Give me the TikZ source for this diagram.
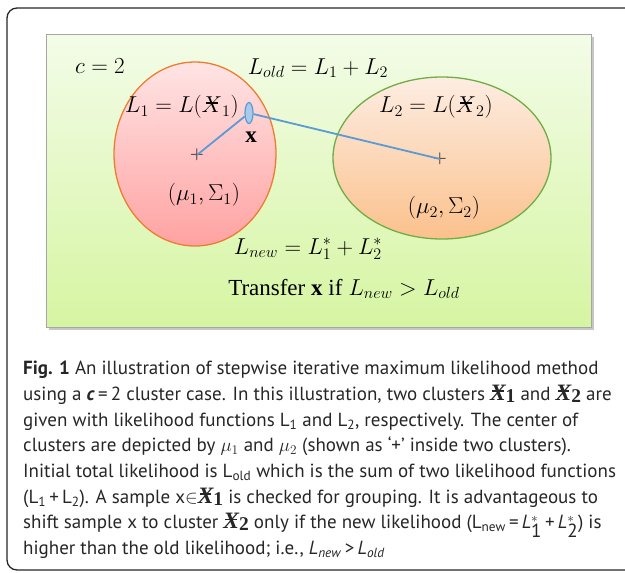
\RequirePackage{fix-cm}
\documentclass[tikz,border=0pt]{standalone}
\usepackage{fontspec}
\setmainfont{PT Sans}
\newfontfamily\diagserif{Liberation Serif}
\usepackage{tikz}
\usetikzlibrary{positioning,shapes.geometric}
\definecolor{PanelTop}{HTML}{F3FCE8}
\definecolor{PanelBottom}{HTML}{D6F5A2}
\definecolor{PinkTop}{HTML}{FFE4E4}
\definecolor{PinkBottom}{HTML}{FFA2A2}
\definecolor{PeachTop}{HTML}{FDEDE2}
\definecolor{PeachBottom}{HTML}{FBC18C}
\definecolor{EdgeOrange}{HTML}{ED7D31}
\definecolor{EdgeGreen}{HTML}{70AD47}
\definecolor{LinkBlue}{HTML}{5B9BD5}
\definecolor{SampleFill}{HTML}{A9CBEA}
% crossed script X used for the clusters
\newcommand{\strokeX}{\mbox{\ooalign{$X$\cr\hidewidth\rule[.38em]{.5em}{.07em}\hidewidth\cr}}}
\newcommand{\boldX}[1]{{\diagserif\bfseries\fontsize{23.5}{25}\selectfont\ooalign{\itshape X\cr\hidewidth\rule[.36em]{.5em}{.07em}\hidewidth\cr}\fontsize{19.5}{25}\selectfont\raisebox{-2pt}{#1}}}

\begin{document}
\begin{tikzpicture}[x=1pt, y=-1pt,
    every node/.style={inner sep=0pt},
    eq/.style={font=\fontsize{23}{27}\selectfont},
    cluster/.style={ellipse, line width=1.3pt},
    centre/.style={font=\fontsize{19}{19}\selectfont},
    link/.style={LinkBlue, line width=1.8pt},
    caption/.style={align=left, font=\fontsize{19}{25.7}\selectfont, text=black!85}]
  \useasboundingbox (0,0) rectangle (625,573);
  \draw[black!85, line width=1.3pt, rounded corners=10pt] (7,8) rectangle (640,570);

  % panel with shadow
  \fill[black!22] (49,37) rectangle (594,330);
  \shade[top color=PanelTop, bottom color=PanelBottom, draw=black!35, line width=1pt]
        (46,34) rectangle (591,327);

  \node[cluster, minimum width=162pt, minimum height=184pt, draw=EdgeOrange,
        top color=PinkTop, bottom color=PinkBottom] (clusterA) at (195,154) {};
  \node[cluster, minimum width=218pt, minimum height=162pt, draw=EdgeGreen,
        top color=PeachTop, bottom color=PeachBottom] (clusterB) at (442,158) {};

  \node[eq] (cval)  at (100,66)  {$c = 2$};
  \node[eq] (Lold)  at (318,68)  {$L_{old} = L_1 + L_2$};
  \node[eq] (LA)    at (182,107) {$L_1 = L(\strokeX_1)$};
  \node[eq] (LB)    at (436,107) {$L_2 = L(\strokeX_2)$};
  \node[eq] (parA)  at (204,195) {$(\mu_1, \Sigma_1)$};
  \node[eq] (parB)  at (444,208) {$(\mu_2, \Sigma_2)$};
  \node[eq] (Lnew)  at (308,249) {$L_{new} = L_1^* + L_2^*$};
  \node[eq] (rule)  at (344,289) {{\diagserif Transfer \textbf{x} if} $L_{new} > L_{old}$};
  \node[eq] (xlbl)  at (251,137) {\diagserif\bfseries x};

  \node[centre] (muA) at (197,155) {$+$};
  \node[centre] (muB) at (440,159) {$+$};
  \node[ellipse, minimum width=8pt, minimum height=21pt, fill=SampleFill,
        draw=LinkBlue, line width=1.2pt] (sample) at (249,113) {};
  \draw[link] (sample) -- (muA.center);
  \draw[link] (sample) -- (muB.center);

  \node[caption, anchor=north west] (legend) at (23,361) {%
    \textbf{Fig. 1} An illustration of stepwise iterative maximum likelihood method\\
    using a \textbf{\textit{c}}\,=\,2 cluster case. In this illustration, two clusters \boldX{1} and \boldX{2} are\\
    given with likelihood functions L\textsubscript{1} and L\textsubscript{2}, respectively. The center of\\
    clusters are depicted by $\mu_1$ and $\mu_2$ (shown as `+' inside two clusters).\\
    Initial total likelihood is L\textsubscript{old} which is the sum of two likelihood functions\\
    (L\textsubscript{1}\,+\,L\textsubscript{2}). A sample x$\in$\boldX{1} is checked for grouping. It is advantageous to\\
    shift sample x to cluster \boldX{2} only if the new likelihood (L\textsubscript{new}\,=\,\textit{L}$^{*}_{\textrm{1}}$\,+\,\textit{L}$^{*}_{\textrm{2}}$) is\\
    higher than the old likelihood; i.e., \textit{L}\textsubscript{\textit{new}}\,>\,\textit{L}\textsubscript{\textit{old}}};
\end{tikzpicture}
\end{document}
